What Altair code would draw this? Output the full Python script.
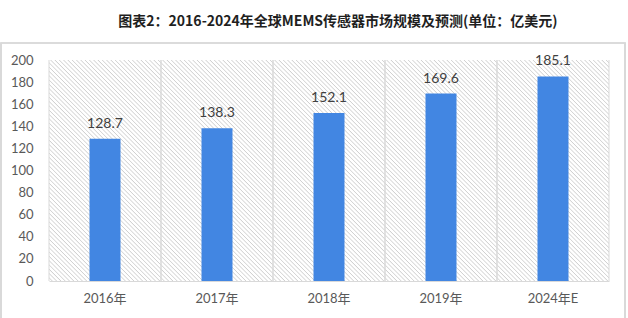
import altair as alt
import pandas as pd

categories = ["2016年", "2017年", "2018年", "2019年", "2024年E"]
values = [128.7, 138.3, 152.1, 169.6, 185.1]
y_ticks = [0, 20, 40, 60, 80, 100, 120, 140, 160, 180, 200]
title_text = "图表2：2016-2024年全球MEMS传感器市场规模及预测(单位：亿美元)"

df = pd.DataFrame({"cat": categories, "val": values, "lbl": [f"{v:.1f}" for v in values]})

W, H = 560, 221
BAND_W = W / len(categories)

# diagonal hatch via a striped linear gradient (style only)
span = BAND_W + H
period = 4.3 / span
stops = []
k = 0
while True:
    s = k * period
    if s >= 1:
        break
    pts = [(s + 0.52 * period, "#ffffff"), (s + 0.78 * period, "#cfcfcf"), (s + period, "#ffffff")]
    if k == 0:
        stops.append(alt.GradientStop(color="#ffffff", offset=0))
    for off, col in pts:
        if off <= 1:
            stops.append(alt.GradientStop(color=col, offset=round(off, 5)))
    k += 1
kx = span / (BAND_W ** 2 + H ** 2)
hatch = alt.LinearGradient(
    gradient="linear", stops=stops,
    x1=0, y1=1, x2=round(BAND_W * kx, 5), y2=round(1 - H * kx, 5),
)

FONT = "Lato, Noto Sans CJK SC, sans-serif"
GRID = "#d9d9d9"

xaxis = alt.Axis(title=None, labelAngle=0, ticks=False, domainColor=GRID,
                 labelColor="#595959", labelFont=FONT, labelFontSize=13,
                 labelPadding=11, zindex=1)
yaxis = alt.Axis(title=None, values=y_ticks, tickCount=len(y_ticks) + 1, ticks=False,
                 domain=False, grid=False, labelColor="#595959", labelFont=FONT,
                 labelFontSize=13, labelPadding=16, labelOverlap=False)
yscale = alt.Scale(domain=[0, 200])

xenc = alt.X("cat:N", sort=categories, scale=alt.Scale(paddingInner=0, paddingOuter=0), axis=xaxis)

base = alt.Chart(df)

bg = base.mark_rect(fill=hatch).encode(x=xenc, y=alt.datum(200), y2=alt.datum(0))

sep_l = base.mark_rule(color=GRID, strokeWidth=1).encode(
    x=alt.X("cat:N", sort=categories, bandPosition=0), y=alt.datum(0), y2=alt.datum(200))
sep_r = base.mark_rule(color=GRID, strokeWidth=1).encode(
    x=alt.X("cat:N", sort=categories, bandPosition=1), y=alt.datum(0), y2=alt.datum(200))

bars = base.mark_bar(color="#4286e2", width=31).encode(
    x=xenc, y=alt.Y("val:Q", scale=yscale, axis=yaxis))

labels = base.mark_text(baseline="bottom", dy=-8, font=FONT, fontSize=14, color="#404040").encode(
    x=alt.X("cat:N", sort=categories), y=alt.Y("val:Q"), text="lbl:N")

border = base.mark_rect(filled=False, color=GRID, strokeWidth=1.2).encode(
    x=alt.value(-48), x2=alt.value(576), y=alt.value(-17), y2=alt.value(300))

chart = alt.layer(bg, sep_l, sep_r, bars, labels, border).properties(
    width=W, height=H,
    autosize=alt.AutoSizeParams(type="none"),
    padding={"left": 49, "top": 60, "right": 19, "bottom": 37},
    title=alt.TitleParams(title_text, anchor="middle", font="Noto Sans CJK SC", fontSize=14,
                          fontWeight="bold", color="#1f1f1f", dx=9, offset=13),
).configure_view(stroke=None)

chart.save("out.html", embed_options={"renderer": "svg", "actions": False})
